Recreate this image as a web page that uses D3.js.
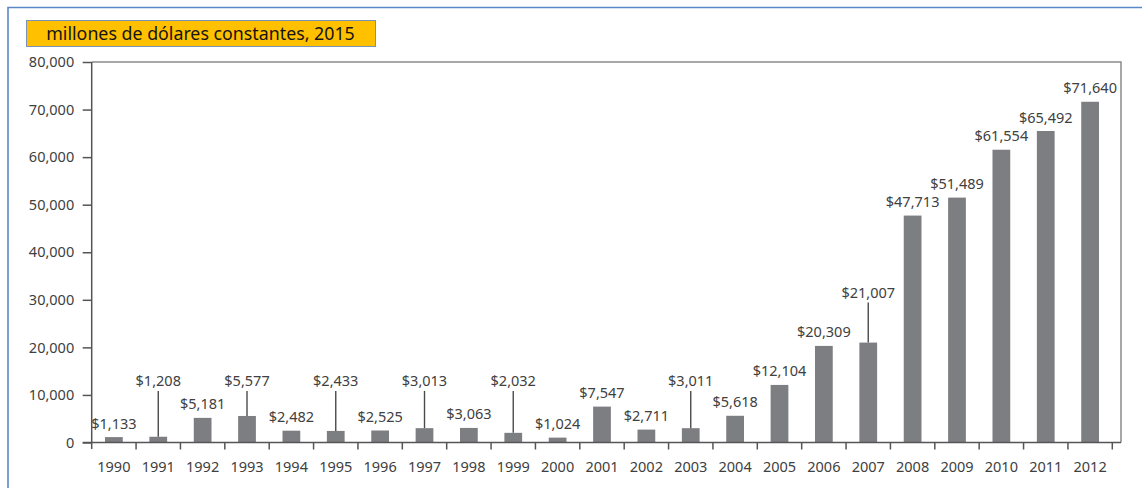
<!DOCTYPE html>
<html>
<head>
<meta charset="utf-8">
<script src="https://cdn.jsdelivr.net/npm/d3@7"></script>
<style>
  html, body { margin: 0; padding: 0; background: #fff; }
  svg { display: block; }
  text { font-family: "Noto Sans", "Open Sans", sans-serif; }
</style>
</head>
<body>
<svg id="chart" width="1142" height="488"></svg>
<script>
// Annual values, millions of constant 2015 dollars
const years = [1990, 1991, 1992, 1993, 1994, 1995, 1996, 1997, 1998, 1999, 2000, 2001,
               2002, 2003, 2004, 2005, 2006, 2007, 2008, 2009, 2010, 2011, 2012];
const values = [1133, 1208, 5181, 5577, 2482, 2433, 2525, 3013, 3063, 2032, 1024, 7547,
                2711, 3011, 5618, 12104, 20309, 21007, 47713, 51489, 61554, 65492, 71640];
const yTicks = [0, 10000, 20000, 30000, 40000, 50000, 60000, 70000, 80000];
const unitLabel = "millones de dólares constantes, 2015";

// Labels lifted above their bar and tied to it with a leader line (level in data units)
const leaderYears = [1991, 1993, 1995, 1997, 1999, 2003, 2007];
const leaderLevels = [11800, 11800, 11800, 11800, 11800, 11800, 30400];

const svg = d3.select("#chart");
const textColor = "#404040";
const fontSize = 14.5;

const plot = { left: 91.7, right: 1112.3, frameRight: 1121, top: 62, bottom: 442.5 };

const x = d3.scaleBand().domain(years).range([plot.left, plot.right]).padding(0);
const y = d3.scaleLinear().domain([0, 80000]).range([plot.bottom, plot.top]);

const fmt = d3.format(",");
const data = years.map((yr, i) => ({ year: yr, value: values[i] }));
const leaderMap = new Map(leaderYears.map((yr, i) => [yr, leaderLevels[i]]));

// Outer frame (left and top edges)
svg.append("path")
  .attr("d", `M8,${488} V7.5 H1142`)
  .attr("fill", "none")
  .attr("stroke", "#5b87c6")
  .attr("stroke-width", 1.6);

// Unit box
svg.append("rect")
  .attr("x", 26.5).attr("y", 20.5)
  .attr("width", 349).attr("height", 26)
  .attr("fill", "#ffc000")
  .attr("stroke", "#7b93b6")
  .attr("stroke-width", 1);
svg.append("text")
  .attr("x", 200.5).attr("y", 39.5)
  .attr("text-anchor", "middle")
  .attr("font-size", 17.8)
  .attr("fill", "#141414")
  .text(unitLabel);

// Plot frame: top and right edges
svg.append("path")
  .attr("d", `M${plot.left},${plot.top} H${plot.frameRight} V${plot.bottom}`)
  .attr("fill", "none")
  .attr("stroke", "#8a8a8a")
  .attr("stroke-width", 1.5);

// Bars
const barW = x.bandwidth() * 0.4;
svg.append("g").selectAll("rect")
  .data(data)
  .join("rect")
  .attr("x", d => x(d.year) + x.bandwidth() / 2 - barW / 2)
  .attr("y", d => y(d.value))
  .attr("width", barW)
  .attr("height", d => y(0) - y(d.value))
  .attr("fill", "#7d7e82");

// Leader lines
svg.append("g").selectAll("line")
  .data(data.filter(d => leaderMap.has(d.year)))
  .join("line")
  .attr("x1", d => x(d.year) + x.bandwidth() / 2)
  .attr("x2", d => x(d.year) + x.bandwidth() / 2)
  .attr("y1", d => y(leaderMap.get(d.year)) + 4.5)
  .attr("y2", d => y(d.value))
  .attr("stroke", "#4a4a4a")
  .attr("stroke-width", 1.4);

// Value labels
svg.append("g").selectAll("text")
  .data(data)
  .join("text")
  .attr("x", d => x(d.year) + x.bandwidth() / 2)
  .attr("y", d => leaderMap.has(d.year) ? y(leaderMap.get(d.year)) : y(d.value) - 8.5)
  .attr("text-anchor", "middle")
  .attr("font-size", fontSize)
  .attr("fill", textColor)
  .text(d => "$" + fmt(d.value));

// Y axis
const yAxis = svg.append("g")
  .attr("transform", `translate(${plot.left},0)`)
  .call(d3.axisLeft(y).tickValues(yTicks).tickFormat(fmt).tickSize(9).tickSizeOuter(0));
yAxis.select(".domain").attr("stroke", "#555").attr("stroke-width", 1.5)
  .attr("d", `M0,${plot.top}V${plot.bottom + 6.5}`);
yAxis.selectAll(".tick line").attr("stroke", "#555").attr("stroke-width", 1.5);
yAxis.selectAll(".tick text")
  .attr("x", -17.5)
  .attr("font-size", fontSize)
  .attr("font-family", "'Noto Sans', sans-serif")
  .attr("fill", textColor);

// X axis: ticks on band boundaries, labels at band centres
const xg = svg.append("g").attr("transform", `translate(0,${plot.bottom})`);
xg.append("line")
  .attr("x1", plot.left - 9).attr("x2", plot.frameRight)
  .attr("stroke", "#555").attr("stroke-width", 1.5);
const boundaries = years.map(yr => x(yr) + x.bandwidth());
xg.selectAll("line.tick")
  .data(boundaries)
  .join("line")
  .attr("class", "tick")
  .attr("x1", d => d).attr("x2", d => d)
  .attr("y1", 0).attr("y2", 7)
  .attr("stroke", "#555").attr("stroke-width", 1.5);
xg.selectAll("text")
  .data(years)
  .join("text")
  .attr("x", d => x(d) + x.bandwidth() / 2)
  .attr("y", 29)
  .attr("text-anchor", "middle")
  .attr("font-size", fontSize)
  .attr("fill", textColor)
  .text(d => d);
</script>
</body>
</html>
